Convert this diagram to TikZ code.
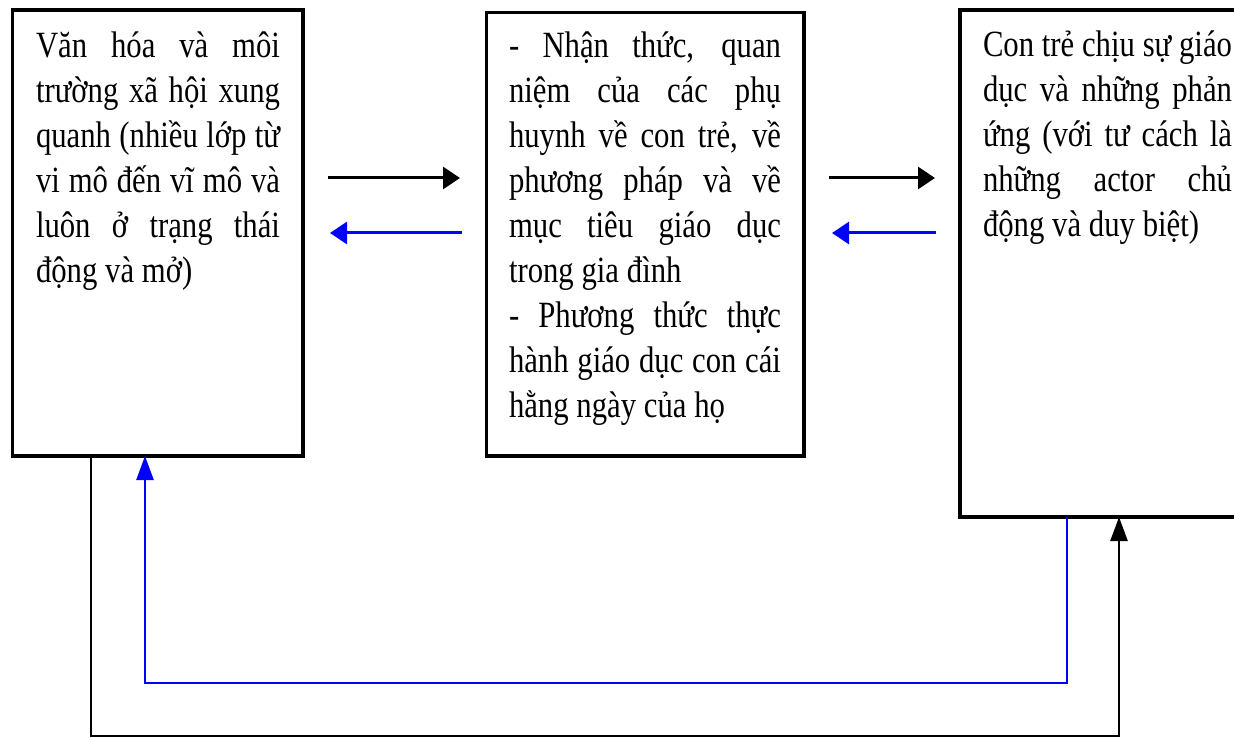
\documentclass[tikz,border=0pt]{standalone}
\usepackage{fontspec}
\setmainfont{Liberation Serif}[FakeStretch=0.83]
\usetikzlibrary{arrows.meta}
\newcommand\jline[1]{\noindent\hbox to \hsize{\spaceskip=0.21em plus 3em minus 0.07em\xspaceskip=\spaceskip\strut #1}\par}
\newcommand\lline[1]{\noindent{\spaceskip=0.21em\xspaceskip=\spaceskip\strut #1}\par}
\begin{document}
\begin{tikzpicture}[x=1pt,y=-1pt,
  box/.style={draw,line width=3.2pt,inner sep=0pt,outer sep=0pt,anchor=north west},
  txt/.style={inner sep=0pt,outer sep=0pt,anchor=north west,align=left,font=\fontsize{37}{45}\selectfont},
  harr/.style={line width=3pt,-{Triangle[length=17pt,width=22pt]}},
  varr/.style={line width=2.6pt,-{Triangle[length=24pt,width=17pt]}}]
\useasboundingbox (0,0) rectangle (1234,738);
% boxes
\node[box,minimum width=290.2pt,minimum height=446pt] (box1) at (12.8,10) {};
\node[box,minimum width=317.3pt,minimum height=443.5pt] (box2) at (486.7,12.5) {};
\node[box,minimum width=300pt,minimum height=507pt] (box3) at (960,10) {};
% texts
\node[txt,text width=244pt] (t1) at (36,26.5) {%
\jline{Văn hóa và môi}
\jline{trường xã hội xung}
\jline{quanh (nhiều lớp từ}
\jline{vi mô đến vĩ mô và}
\jline{luôn ở trạng thái}
\lline{động và mở)}};
\node[txt,text width=272pt] (t2) at (509,26.5) {%
\jline{- Nhận thức, quan}
\jline{niệm của các phụ}
\jline{huynh về con trẻ, về}
\jline{phương pháp và về}
\jline{mục tiêu giáo dục}
\lline{trong gia đình}
\jline{- Phương thức thực}
\jline{hành giáo dục con cái}
\lline{hằng ngày của họ}};
\node[txt,text width=249pt] (t3) at (983,25.5) {%
\jline{Con trẻ chịu sự giáo}
\jline{dục và những phản}
\jline{ứng (với tư cách là}
\jline{những actor chủ}
\lline{động và duy biệt)}};
% horizontal arrows
\draw[harr,shorten <=25pt,shorten >=26.7pt] (box1.east |- 0,178) -- (box2.west |- 0,178);
\draw[harr,blue,shorten <=24.7pt,shorten >=27pt] (box2.west |- 0,233) -- (box1.east |- 0,233);
\draw[harr,shorten <=25pt,shorten >=25pt] (box2.east |- 0,178) -- (box3.west |- 0,178);
\draw[harr,blue,shorten <=24pt,shorten >=28pt] (box3.west |- 0,233) -- (box2.east |- 0,233);
% feedback loops
\coordinate (b1) at (1067,683);
\coordinate (b2) at (145,683);
\draw[varr,blue] (1067,0 |- box3.south) -- (b1) -- (b2) -- (145,0 |- box1.south);
\coordinate (k1) at (91,736);
\coordinate (k2) at (1119,736);
\draw[varr] (91,0 |- box1.south) -- (k1) -- (k2) -- (1119,0 |- box3.south);
\end{tikzpicture}
\end{document}
